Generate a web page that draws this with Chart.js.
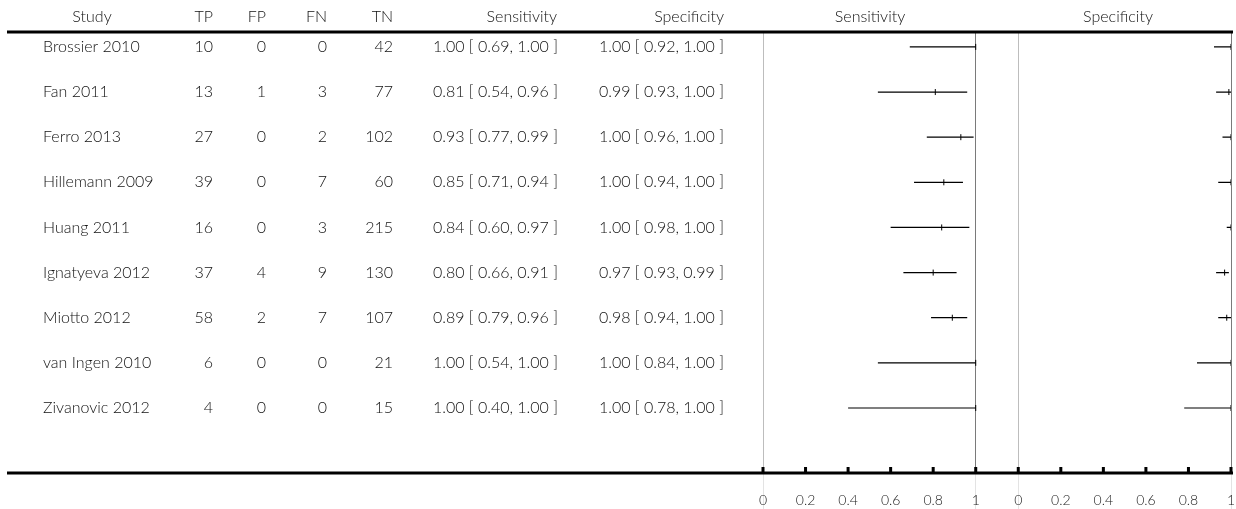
<!DOCTYPE html>
<html>
<head>
<meta charset="utf-8">
<script src="https://cdn.jsdelivr.net/npm/chart.js@4"></script>
<style>
  html, body { margin: 0; padding: 0; background: #fff; }
  #wrap { width: 1236px; height: 509px; position: relative; }
</style>
</head>
<body>
<div id="wrap"><canvas id="forest"></canvas></div>
<script>
// study table
var studies = ["Brossier 2010", "Fan 2011", "Ferro 2013", "Hillemann 2009", "Huang 2011",
  "Ignatyeva 2012", "Miotto 2012", "van Ingen 2010", "Zivanovic 2012"];
var tp = [10, 13, 27, 39, 16, 37, 58, 6, 4];
var fp = [0, 1, 0, 0, 0, 4, 2, 0, 0];
var fn = [0, 3, 2, 7, 3, 9, 7, 0, 0];
var tn = [42, 77, 102, 60, 215, 130, 107, 21, 15];

var sens   = [1.00, 0.81, 0.93, 0.85, 0.84, 0.80, 0.89, 1.00, 1.00];
var sensLo = [0.69, 0.54, 0.77, 0.71, 0.60, 0.66, 0.79, 0.54, 0.40];
var sensHi = [1.00, 0.96, 0.99, 0.94, 0.97, 0.91, 0.96, 1.00, 1.00];
var spec   = [1.00, 0.99, 1.00, 1.00, 1.00, 0.97, 0.98, 1.00, 1.00];
var specLo = [0.92, 0.93, 0.96, 0.94, 0.98, 0.93, 0.94, 0.84, 0.78];
var specHi = [1.00, 1.00, 1.00, 1.00, 1.00, 0.99, 1.00, 1.00, 1.00];

var tickVals = [0, 0.2, 0.4, 0.6, 0.8, 1];
var tickLabels = ["0", "0.2", "0.4", "0.6", "0.8", "1"];

// second panel sits right of the first one on the same x scale
var SPEC_SHIFT = 1.2;
var FONT = "Lato";

function ciPoints(lo, hi, shift) {
  var pts = [];
  for (var i = 0; i < lo.length; i++) {
    pts.push({x: lo[i] + shift, y: i});
    pts.push({x: hi[i] + shift, y: i});
    pts.push({x: hi[i] + shift, y: null});
  }
  return pts;
}

function estPoints(est, shift) {
  return est.map(function (v, i) { return {x: v + shift, y: i}; });
}

function fmt(v, lo, hi) {
  return v.toFixed(2) + " [ " + lo.toFixed(2) + ", " + hi.toFixed(2) + " ]";
}

var allTicks = tickVals.concat(tickVals.map(function (v) { return v + SPEC_SHIFT; }));

function isEdge(v) {
  return [0, 1, SPEC_SHIFT, 1 + SPEC_SHIFT].some(function (e) { return Math.abs(v - e) < 1e-6; });
}

var tablePlugin = {
  id: "table",
  afterDraw: function (chart) {
    var ctx = chart.ctx;
    var y = chart.scales.y;
    var x = chart.scales.x;
    var area = chart.chartArea;
    ctx.save();

    // rules
    ctx.strokeStyle = "#000";
    ctx.lineWidth = 3;
    ctx.beginPath();
    ctx.moveTo(7, area.top); ctx.lineTo(1233, area.top);
    ctx.moveTo(7, area.bottom); ctx.lineTo(1233, area.bottom);
    ctx.stroke();

    // upward tick marks
    ctx.beginPath();
    allTicks.forEach(function (v) {
      var px = x.getPixelForValue(v);
      ctx.moveTo(px, area.bottom - 6);
      ctx.lineTo(px, area.bottom);
    });
    ctx.stroke();

    ctx.fillStyle = "#111";
    ctx.font = "300 16px " + FONT;
    ctx.textBaseline = "middle";

    // header
    var hy = area.top - 15;
    ctx.textAlign = "center";
    ctx.fillText("Study", 92, hy);
    ctx.textAlign = "right";
    ctx.fillText("TP", 213, hy);
    ctx.fillText("FP", 266, hy);
    ctx.fillText("FN", 327, hy);
    ctx.fillText("TN", 393, hy);
    ctx.fillText("Sensitivity", 557, hy);
    ctx.fillText("Specificity", 724, hy);
    ctx.textAlign = "center";
    ctx.fillText("Sensitivity", 870, hy);
    ctx.fillText("Specificity", 1118, hy);

    for (var i = 0; i < studies.length; i++) {
      var ry = y.getPixelForValue(i);
      ctx.textAlign = "left";
      ctx.fillText(studies[i], 43, ry);
      ctx.textAlign = "right";
      ctx.fillText(tp[i], 213, ry);
      ctx.fillText(fp[i], 266, ry);
      ctx.fillText(fn[i], 327, ry);
      ctx.fillText(tn[i], 393, ry);
      ctx.fillText(fmt(sens[i], sensLo[i], sensHi[i]), 558, ry);
      ctx.fillText(fmt(spec[i], specLo[i], specHi[i]), 724, ry);
    }
    ctx.restore();
  }
};

var ciStyle = {
  showLine: true,
  spanGaps: false,
  borderColor: "#000",
  borderWidth: 1.2,
  pointRadius: 0
};
var estStyle = {
  showLine: false,
  pointStyle: "line",
  rotation: 90,
  pointRadius: 3,
  borderColor: "#000",
  borderWidth: 1
};

new Chart(document.getElementById("forest"), {
  type: "scatter",
  data: {
    datasets: [
      Object.assign({label: "Sensitivity CI", data: ciPoints(sensLo, sensHi, 0)}, ciStyle),
      Object.assign({label: "Specificity CI", data: ciPoints(specLo, specHi, SPEC_SHIFT)}, ciStyle),
      Object.assign({label: "Sensitivity", data: estPoints(sens, 0)}, estStyle),
      Object.assign({label: "Specificity", data: estPoints(spec, SPEC_SHIFT)}, estStyle)
    ]
  },
  options: {
    responsive: true,
    maintainAspectRatio: false,
    animation: false,
    layout: { padding: { left: 763, right: 4, top: 32, bottom: 0 } },
    plugins: { legend: { display: false }, tooltip: { enabled: false } },
    scales: {
      x: {
        type: "linear",
        min: 0,
        max: 1 + SPEC_SHIFT,
        afterBuildTicks: function (scale) {
          scale.ticks = allTicks.map(function (v) { return {value: v}; });
        },
        afterFit: function (scale) { scale.height = 36; },
        border: { display: false },
        grid: {
          drawOnChartArea: true,
          drawTicks: true,
          tickLength: 36,
          lineWidth: function (c) { return isEdge(c.tick.value) ? 1 : 0; },
          color: function (c) {
            var v = c.tick.value;
            if (Math.abs(v - 1) < 1e-6 || Math.abs(v - 1 - SPEC_SHIFT) < 1e-6) return "#7a7a7a";
            return "#bdbdbd";
          },
          tickColor: function (c) { return isEdge(c.tick.value) ? "#e3e3e3" : "rgba(0,0,0,0)"; },
          tickWidth: 1
        },
        ticks: {
          autoSkip: false,
          maxRotation: 0,
          padding: -17,
          color: "#222",
          font: { family: FONT, size: 14, weight: "300" },
          callback: function (val, idx) { return tickLabels[idx % tickLabels.length]; }
        }
      },
      y: {
        type: "linear",
        display: false,
        reverse: true,
        min: -0.33,
        max: 9.44
      }
    }
  },
  plugins: [tablePlugin]
});
</script>
</body>
</html>
